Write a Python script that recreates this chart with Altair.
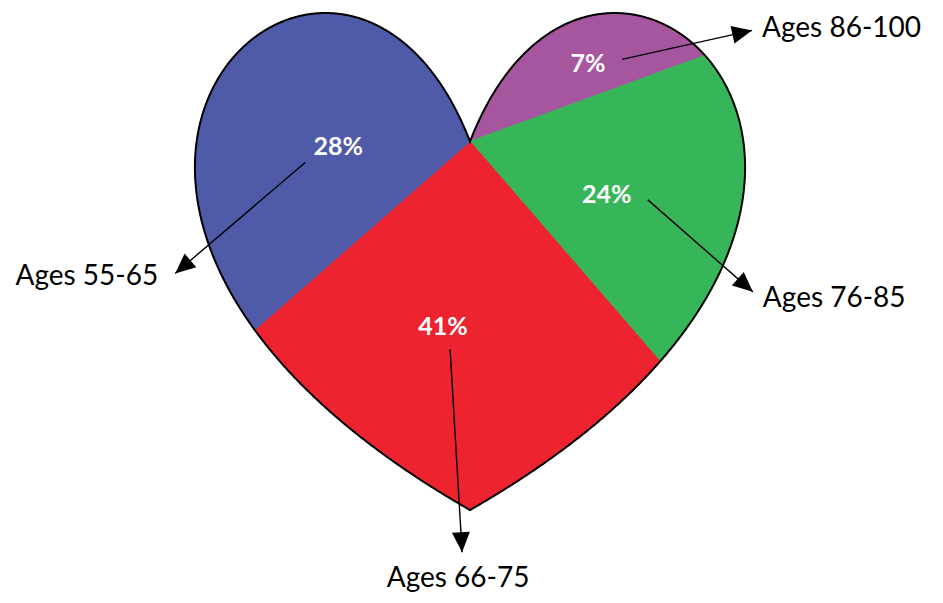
import numpy as np
import pandas as pd
import altair as alt

# ---------------- data ----------------
categories = ["Ages 86-100", "Ages 76-85", "Ages 66-75", "Ages 55-65"]
shares = [7, 24, 41, 28]
share_text = ["7%", "24%", "41%", "28%"]
colors = ["#A6569F", "#37B559", "#ED2330", "#4F5AA8"]

# ---------------- layout (page pixels) ----------------
MARGIN = 8
HEART = dict(cx=470.0, top=12.0, width=552.0, height=498.0,
             cleft=0.26, c1=(0.235, -0.412), c2=(0.993, 0.37))
# shift of each percentage label from its slice centroid
LABEL_NUDGE = {
    "Ages 86-100": (5, -2),
    "Ages 76-85": (-30, 4),
    "Ages 66-75": (-17, -10),
    "Ages 55-65": (25, -3),
}
# callout geometry relative to the percentage label
CALLOUT = {
    "Ages 86-100": dict(start=(34, -5), tip=(164, -34), text=(174, -35), align="left"),
    "Ages 76-85": dict(start=(41, 5), tip=(146, 97), text=(156, 104), align="left"),
    "Ages 66-75": dict(start=(7, 22), tip=(19, 225), text=(15, 252), align="center"),
    "Ages 55-65": dict(start=(-33, 15), tip=(-163, 126), text=(-180, 130), align="right"),
}


def bezier(p0, p1, p2, p3, t):
    t = t[:, None]
    return ((1 - t) ** 3) * p0 + 3 * ((1 - t) ** 2) * t * p1 + 3 * (1 - t) * (t ** 2) * p2 + (t ** 3) * p3


cx, top, hw, hh = HEART["cx"], HEART["top"], HEART["width"], HEART["height"]
P0 = np.array([cx, top + HEART["cleft"] * hh])
P1 = np.array([cx + HEART["c1"][0] * hw, top + HEART["c1"][1] * hh])
P2 = np.array([cx + HEART["c2"][0] * hw, top + HEART["c2"][1] * hh])
P3 = np.array([cx, top + hh])
tt = np.linspace(0, 1, 800)
right = bezier(P0, P1, P2, P3, tt)
left = right[::-1].copy()
left[:, 0] = 2 * cx - left[:, 0]
boundary = np.vstack([right, left[1:]])

# cumulative area swept from the cleft point along the outline (clockwise)
rel = boundary - P0
tri = 0.5 * np.abs(rel[:-1, 0] * rel[1:, 1] - rel[1:, 0] * rel[:-1, 1])
cum = np.concatenate([[0.0], np.cumsum(tri)])
frac = cum / cum[-1]


def split_point(f):
    i = int(np.searchsorted(frac, f))
    i = min(max(i, 1), len(frac) - 1)
    d = frac[i] - frac[i - 1]
    a = (f - frac[i - 1]) / d if d > 0 else 0.0
    a = min(max(a, 0.0), 1.0)
    return boundary[i - 1] + a * (boundary[i] - boundary[i - 1])


def centroid(poly):
    x, y = poly[:, 0], poly[:, 1]
    x1, y1 = np.roll(x, -1), np.roll(y, -1)
    c = x * y1 - x1 * y
    A = c.sum() / 2
    return np.array([((x + x1) * c).sum() / (6 * A), ((y + y1) * c).sum() / (6 * A)])


edges = np.concatenate([[0.0], np.cumsum(shares)]) / float(sum(shares))

features = []
pct_rows, rule_rows, head_rows, text_rows = [], [], [], []
for k, cat in enumerate(categories):
    f0, f1 = edges[k], edges[k + 1]
    inner = boundary[(frac > f0) & (frac < f1)]
    s, e = split_point(f0), split_point(f1)
    poly = np.vstack([P0, s, inner, e])
    ring = np.vstack([poly, P0])
    features.append({"type": "Feature", "properties": {"category": cat},
                     "geometry": {"type": "Polygon", "coordinates": [ring.round(2).tolist()]}})
    c = centroid(poly) + np.array(LABEL_NUDGE[cat], dtype=float)
    pct_rows.append({"x": c[0], "y": c[1], "label": share_text[k]})
    co = CALLOUT[cat]
    sx, sy = c[0] + co["start"][0], c[1] + co["start"][1]
    tx, ty = c[0] + co["tip"][0], c[1] + co["tip"][1]
    rule_rows.append({"x1": sx, "y1": sy, "x2": tx, "y2": ty})
    ang = (np.degrees(np.arctan2(tx - sx, -(ty - sy))) + 360.0) % 360.0
    head_rows.append({"x": tx, "y": ty, "ang": ang})
    text_rows.append({"x": c[0] + co["text"][0], "y": c[1] + co["text"][1],
                      "label": cat, "align": co["align"]})

outline_feature = {"type": "Feature", "properties": {"category": "outline"},
                   "geometry": {"type": "Polygon", "coordinates": [boundary.round(2).tolist()]}}

proj = dict(type="identity", scale=1, translate=[-MARGIN, -MARGIN])
cscale = alt.Scale(domain=categories, range=colors)

slices = alt.Chart(alt.Data(values=features)).mark_geoshape(strokeWidth=1).encode(
    color=alt.Color("properties.category:N", scale=cscale, legend=None),
    stroke=alt.Stroke("properties.category:N", scale=cscale, legend=None),
).project(**proj)

outline = alt.Chart(alt.Data(values=[outline_feature])).mark_geoshape(
    filled=False, strokeWidth=2
).encode(stroke=alt.value("black")).project(**proj)

rules = alt.Chart(pd.DataFrame(rule_rows)).mark_rule(color="black", strokeWidth=1.4).encode(
    longitude="x1:Q", latitude="y1:Q", longitude2="x2:Q", latitude2="y2:Q"
).project(**proj)

heads = alt.Chart(pd.DataFrame(head_rows)).mark_point(
    shape="M0,0L-0.9,2L0.9,2Z", filled=True, size=400, color="black", opacity=1
).encode(
    longitude="x:Q", latitude="y:Q", angle=alt.Angle("ang:Q", scale=None)
).project(**proj)

pct = alt.Chart(pd.DataFrame(pct_rows)).mark_text(
    font="Lato", fontSize=25, fontWeight="bold", color="white", align="center", baseline="middle"
).encode(longitude="x:Q", latitude="y:Q", text="label:N").project(**proj)

tdf = pd.DataFrame(text_rows)
text_layers = []
for al in ["left", "right", "center"]:
    sub = tdf[tdf["align"] == al]
    if len(sub):
        text_layers.append(
            alt.Chart(sub).mark_text(font="Lato", fontSize=28, color="black",
                                     align=al, baseline="middle")
            .encode(longitude="x:Q", latitude="y:Q", text="label:N").project(**proj)
        )

chart = alt.layer(slices, outline, rules, heads, pct, *text_layers).properties(
    width=927, height=587, padding=0, autosize=alt.AutoSizeParams(type="none"), background="white"
).configure_view(stroke="transparent")

chart.save("out.html", embed_options={"renderer": "svg", "actions": False})
